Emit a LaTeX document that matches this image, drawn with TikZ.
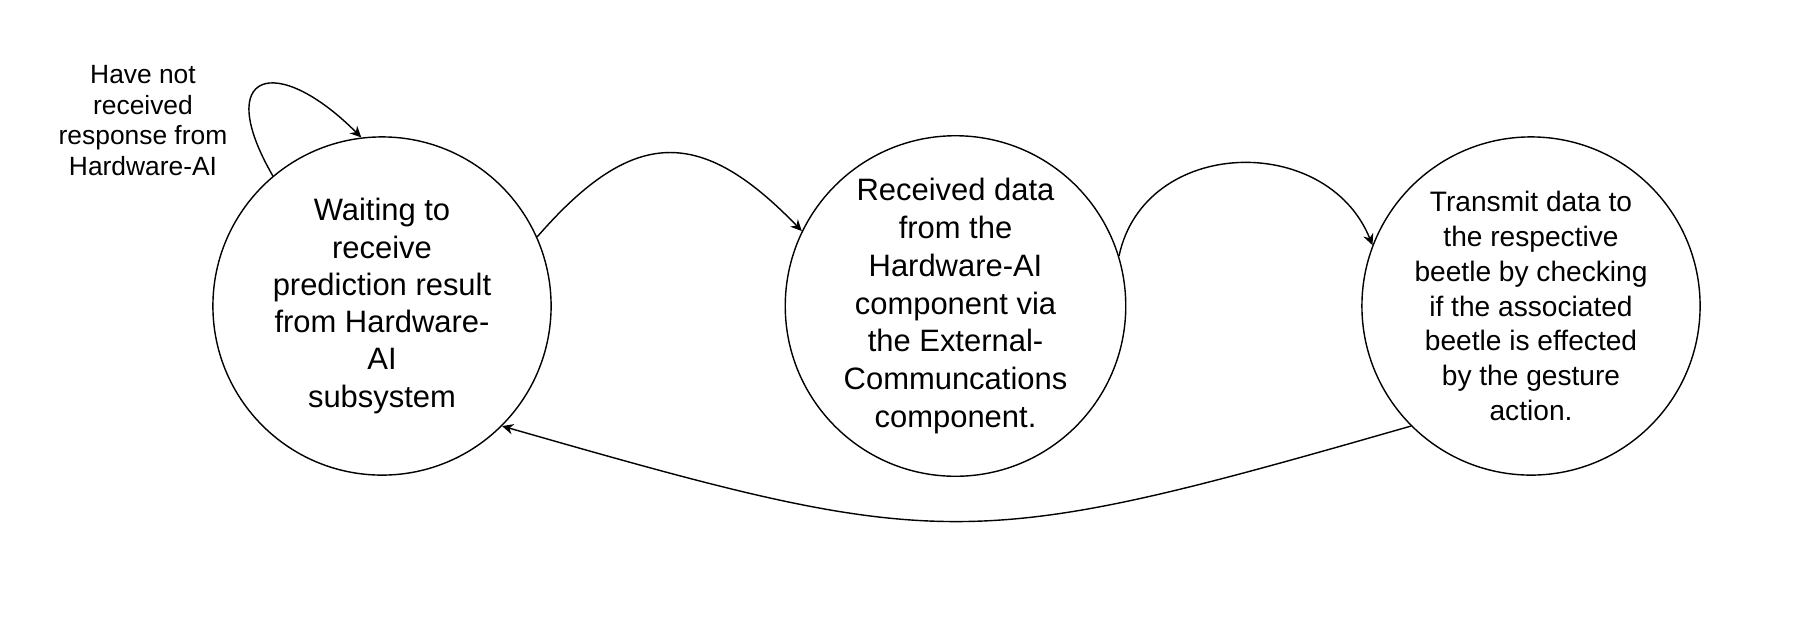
\documentclass[tikz,border=0pt]{standalone}
\usepackage{fontspec}
\setmainfont{Liberation Sans}
\usetikzlibrary{arrows.meta}

\begin{document}
\begin{tikzpicture}[x=0.01cm, y=0.01cm,
    state/.style={draw, circle, line width=0.4pt, minimum size=3.38cm, inner sep=0pt, align=center},
    trans/.style={-{Stealth[length=3.2pt,width=3pt]}, line width=0.4pt}]
    % Frame
    \useasboundingbox (0,0) rectangle (1816,620);

    % States
    \node[state, font=\fontsize{8.8}{10.6}\selectfont] (wait) at (382,314)
        {Waiting to\\receive\\prediction result\\from Hardware-\\AI\\subsystem};
    \node[state, font=\fontsize{8.8}{10.8}\selectfont] (recv) at (955.5,314)
        {Received data\\from the\\Hardware-AI\\component via\\the External-\\Communcations\\component.};
    \node[state, font=\fontsize{8.0}{9.9}\selectfont] (send) at (1531,314)
        {Transmit data to\\the respective\\beetle by checking\\if the associated\\beetle is effected\\by the gesture\\action.};

    % Note
    \node[align=center, font=\fontsize{7.5}{8.7}\selectfont] (note) at (143,499.5)
        {Have not\\received\\response from\\Hardware-AI};

    % Transitions
    \draw[trans] (wait.130) to[out=120, in=135, looseness=3.2] (wait.97);
    \draw[trans] (wait.24) to[out=49, in=134, looseness=1.41] (recv.154);
    \draw[trans] (recv.17) to[out=78, in=112, looseness=1.23] (send.159);
    \draw[trans] (send.225) to[out=196, in=-16, looseness=1.3] (wait.-45);

\end{tikzpicture}
\end{document}
